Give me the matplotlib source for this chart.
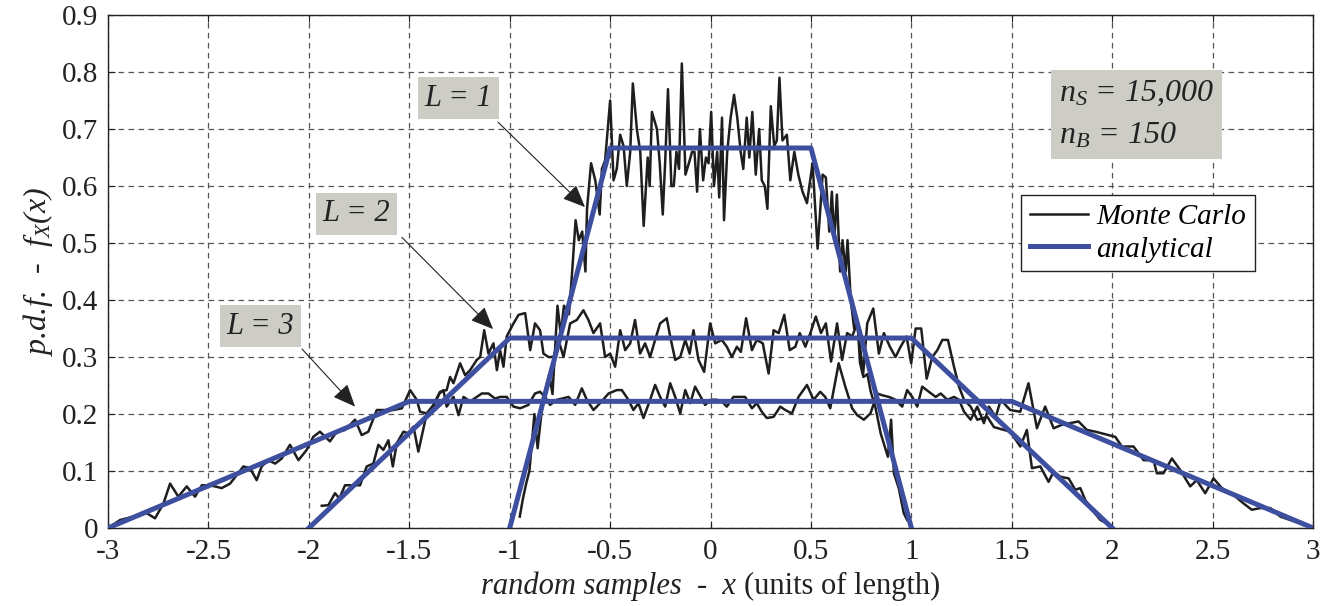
import matplotlib
matplotlib.use("Agg")
import matplotlib.pyplot as plt
from matplotlib.offsetbox import TextArea, HPacker, AnchoredOffsetbox

plt.rcParams['font.family'] = ['Liberation Serif', 'DejaVu Serif']
plt.rcParams['mathtext.fontset'] = 'custom'
plt.rcParams['mathtext.rm'] = 'Liberation Serif:italic'
plt.rcParams['mathtext.it'] = 'Liberation Serif:italic'
plt.rcParams['mathtext.sf'] = 'Liberation Serif'
plt.rcParams['axes.unicode_minus'] = False

# ---------------- data ----------------
x_ticks = [-3, -2.5, -2, -1.5, -1, -0.5, 0, 0.5, 1, 1.5, 2, 2.5, 3]
x_tick_labels = ['-3', '-2.5', '-2', '-1.5', '-1', '-0.5', '0', '0.5', '1', '1.5', '2', '2.5', '3']
y_ticks = [0, 0.1, 0.2, 0.3, 0.4, 0.5, 0.6, 0.7, 0.8, 0.9]
y_tick_labels = ['0', '0.1', '0.2', '0.3', '0.4', '0.5', '0.6', '0.7', '0.8', '0.9']

# analytical p.d.f. (trapezoids)
an1_x = [-1, -0.5, 0.5, 1]
an1_y = [0, 0.6667, 0.6667, 0]
an2_x = [-2, -1, 1, 2]
an2_y = [0, 0.3333, 0.3333, 0]
an3_x = [-3, -1.5, 1.5, 3]
an3_y = [0, 0.2222, 0.2222, 0]

# Monte Carlo histograms
mc1_x = [-0.95, -0.935, -0.918, -0.902, -0.877, -0.861, -0.844, -0.828, -0.803, -0.787,
         -0.762, -0.746, -0.730, -0.705, -0.689, -0.672, -0.656, -0.639, -0.623, -0.615,
         -0.595, -0.574, -0.552, -0.541, -0.525,
         -0.500, -0.483, -0.467, -0.450, -0.433, -0.417, -0.400, -0.387, -0.367, -0.350,
         -0.333, -0.313, -0.303, -0.292, -0.267, -0.253, -0.238, -0.225, -0.212, -0.195,
         -0.183, -0.170, -0.157, -0.143, -0.125, -0.108, -0.092, -0.080, -0.067, -0.053,
         -0.037, -0.023, -0.010, 0.003, 0.017, 0.033, 0.043, 0.057, 0.067, 0.083,
         0.100, 0.117, 0.133, 0.150, 0.163, 0.180, 0.193, 0.208, 0.225, 0.242,
         0.255, 0.270, 0.283, 0.300, 0.317, 0.330, 0.343, 0.358, 0.380, 0.397,
         0.417, 0.437, 0.458, 0.480, 0.500,
         0.508, 0.533, 0.558, 0.574, 0.591, 0.604, 0.616, 0.629, 0.645, 0.657,
         0.673, 0.682, 0.698, 0.715, 0.731, 0.744, 0.761, 0.781, 0.797, 0.822,
         0.847, 0.883, 0.899, 0.913, 0.937, 0.962, 0.979]
mc1_y = [0.02, 0.05, 0.078, 0.10, 0.20, 0.14, 0.195, 0.235, 0.27, 0.235,
         0.39, 0.34, 0.39, 0.375, 0.45, 0.54, 0.505, 0.52, 0.45, 0.56,
         0.64, 0.61, 0.55, 0.63, 0.645,
         0.75, 0.61, 0.63, 0.69, 0.67, 0.60, 0.66, 0.78, 0.70, 0.66,
         0.53, 0.65, 0.60, 0.73, 0.70, 0.64, 0.55, 0.65, 0.77, 0.60,
         0.60, 0.66, 0.63, 0.815, 0.62, 0.64, 0.66, 0.66, 0.59, 0.70,
         0.61, 0.65, 0.64, 0.73, 0.60, 0.66, 0.58, 0.72, 0.54, 0.66,
         0.72, 0.76, 0.72, 0.66, 0.63, 0.72, 0.65, 0.73, 0.62, 0.70,
         0.61, 0.60, 0.56, 0.74, 0.67, 0.68, 0.79, 0.68, 0.69, 0.61,
         0.66, 0.62, 0.59, 0.57, 0.62,
         0.64, 0.49, 0.62, 0.615, 0.52, 0.59, 0.505, 0.585, 0.45, 0.505,
         0.45, 0.505, 0.40, 0.35, 0.365, 0.29, 0.265, 0.27, 0.24, 0.21,
         0.166, 0.125, 0.19, 0.096, 0.07, 0.026, 0.014]

mc2_x = [-1.936, -1.903, -1.870, -1.848, -1.820, -1.778, -1.745, -1.712, -1.679, -1.654,
         -1.629, -1.604, -1.582, -1.562, -1.529, -1.504, -1.479, -1.455,
         -1.413, -1.380, -1.347, -1.314, -1.297, -1.280, -1.247, -1.222, -1.197, -1.164,
         -1.147, -1.127, -1.106, -1.081, -1.064, -1.048, -1.031, -1.015, -0.981, -0.956,
         -0.923, -0.898, -0.874, -0.849, -0.832, -0.807, -0.782, -0.757, -0.732, -0.699,
         -0.666, -0.633, -0.608, -0.583, -0.550, -0.525, -0.500, -0.475, -0.450, -0.425,
         -0.400, -0.376, -0.351, -0.326, -0.301, -0.276, -0.251, -0.218, -0.201, -0.176,
         -0.151, -0.126, -0.104, -0.085, -0.060,
         -0.032, -0.002, 0.023, 0.056, 0.081, 0.106, 0.131, 0.151, 0.177, 0.206,
         0.230, 0.260, 0.289, 0.314, 0.339, 0.367, 0.394, 0.422, 0.444, 0.472,
         0.497, 0.524, 0.550, 0.574, 0.600, 0.630, 0.655, 0.680, 0.705, 0.730,
         0.760, 0.780, 0.810, 0.838, 0.863, 0.893, 0.921, 0.946, 0.976, 0.999,
         1.021, 1.049, 1.076, 1.104, 1.129, 1.154, 1.182, 1.212, 1.237, 1.262,
         1.295, 1.328, 1.378, 1.411,
         1.492, 1.542, 1.575, 1.600, 1.642, 1.683, 1.708, 1.741, 1.783, 1.816,
         1.841, 1.866, 1.899, 1.941, 1.975]
mc2_y = [0.039, 0.040, 0.061, 0.052, 0.075, 0.075, 0.075, 0.108, 0.113, 0.146,
         0.137, 0.154, 0.108, 0.149, 0.169, 0.166, 0.178, 0.134,
         0.201, 0.216, 0.239, 0.242, 0.265, 0.254, 0.289, 0.268, 0.277, 0.295,
         0.300, 0.347, 0.306, 0.324, 0.277, 0.312, 0.283, 0.336, 0.359, 0.374,
         0.377, 0.312, 0.359, 0.347, 0.306, 0.300, 0.300, 0.330, 0.300, 0.359,
         0.365, 0.382, 0.365, 0.342, 0.359, 0.300, 0.306, 0.283, 0.347, 0.312,
         0.324, 0.365, 0.306, 0.324, 0.300, 0.330, 0.359, 0.368, 0.336, 0.295,
         0.300, 0.330, 0.306, 0.347, 0.295,
         0.274, 0.359, 0.324, 0.330, 0.318, 0.300, 0.318, 0.309, 0.368, 0.312,
         0.330, 0.324, 0.271, 0.347, 0.342, 0.374, 0.312, 0.318, 0.342, 0.318,
         0.342, 0.371, 0.342, 0.359, 0.292, 0.359, 0.295, 0.342, 0.336, 0.359,
         0.271, 0.359, 0.385, 0.306, 0.342, 0.318, 0.300, 0.318, 0.336, 0.289,
         0.350, 0.350, 0.262, 0.300, 0.312, 0.330, 0.330, 0.283, 0.248, 0.225,
         0.213, 0.190, 0.195, 0.177,
         0.169, 0.143, 0.172, 0.105, 0.108, 0.081, 0.099, 0.090, 0.087, 0.067,
         0.070, 0.049, 0.032, 0.014, 0.008]

mc3_x = [-3.0, -2.940, -2.874, -2.807, -2.766, -2.724, -2.691, -2.650, -2.608, -2.567,
         -2.533, -2.500, -2.467, -2.434, -2.392, -2.359, -2.326, -2.293, -2.260, -2.235,
         -2.202, -2.168, -2.135, -2.094, -2.052, -2.011, -1.978, -1.945, -1.895, -1.861,
         -1.820, -1.770, -1.737, -1.704, -1.662, -1.620, -1.579, -1.537, -1.496, -1.463,
         -1.446, -1.413, -1.380, -1.350, -1.330, -1.314, -1.280, -1.255, -1.230, -1.197,
         -1.164, -1.139, -1.106, -1.073, -1.048, -1.015, -0.981, -0.948, -0.907, -0.874,
         -0.849, -0.824, -0.799, -0.765, -0.740, -0.707, -0.674, -0.641, -0.616, -0.583,
         -0.550, -0.508, -0.467, -0.442, -0.409, -0.384, -0.359, -0.334, -0.301, -0.276,
         -0.251, -0.226, -0.201, -0.176, -0.151, -0.126, -0.101, -0.077,
         -0.027, 0.002, 0.031, 0.056, 0.081, 0.114, 0.147, 0.172, 0.206, 0.230,
         0.255, 0.280, 0.314, 0.347, 0.372, 0.405, 0.438, 0.480, 0.513, 0.546,
         0.571, 0.596, 0.638, 0.671, 0.705, 0.730, 0.763, 0.796, 0.830, 0.854,
         0.888, 0.921, 0.954, 0.979, 1.004, 1.029, 1.054, 1.087, 1.121, 1.146,
         1.179, 1.212, 1.237, 1.262, 1.295, 1.328, 1.361, 1.386, 1.420, 1.445,
         1.492, 1.542, 1.583, 1.625, 1.666, 1.708, 1.749, 1.791, 1.832, 1.874,
         1.916, 1.949, 2.015, 2.048, 2.106, 2.156, 2.206, 2.222, 2.255, 2.297,
         2.338, 2.388, 2.421, 2.463, 2.504, 2.546, 2.604, 2.654, 2.695, 2.737,
         2.787, 2.837, 2.886, 2.936, 2.994]
mc3_y = [0.0, 0.014, 0.020, 0.026, 0.017, 0.043, 0.078, 0.055, 0.073, 0.055,
         0.075, 0.075, 0.073, 0.070, 0.078, 0.093, 0.108, 0.105, 0.084, 0.108,
         0.119, 0.113, 0.122, 0.146, 0.119, 0.137, 0.160, 0.169, 0.152, 0.169,
         0.172, 0.190, 0.163, 0.169, 0.207, 0.207, 0.207, 0.210, 0.242, 0.225,
         0.204, 0.201, 0.213, 0.236, 0.242, 0.213, 0.230, 0.198, 0.230, 0.222,
         0.230, 0.236, 0.236, 0.227, 0.230, 0.230, 0.213, 0.210, 0.216, 0.236,
         0.239, 0.230, 0.216, 0.225, 0.227, 0.230, 0.216, 0.245, 0.225, 0.207,
         0.219, 0.236, 0.242, 0.242, 0.225, 0.207, 0.219, 0.193, 0.225, 0.251,
         0.230, 0.213, 0.254, 0.230, 0.201, 0.242, 0.219, 0.248,
         0.216, 0.225, 0.225, 0.222, 0.213, 0.230, 0.230, 0.230, 0.210, 0.219,
         0.204, 0.193, 0.195, 0.213, 0.207, 0.201, 0.230, 0.251, 0.225, 0.239,
         0.230, 0.210, 0.289, 0.248, 0.210, 0.198, 0.190, 0.201, 0.236, 0.233,
         0.230, 0.225, 0.213, 0.242, 0.230, 0.213, 0.248, 0.239, 0.230, 0.236,
         0.225, 0.230, 0.225, 0.204, 0.190, 0.213, 0.184, 0.213, 0.195, 0.225,
         0.207, 0.204, 0.254, 0.175, 0.213, 0.175, 0.181, 0.184, 0.187, 0.172,
         0.169, 0.166, 0.160, 0.143, 0.143, 0.119, 0.119, 0.096, 0.096, 0.122,
         0.102, 0.073, 0.084, 0.061, 0.087, 0.070, 0.058, 0.043, 0.032, 0.035,
         0.035, 0.020, 0.014, 0.008, 0.0]

# annotation labels: text, box centre, arrow start, arrow tip
ann_labels = ['L = 1', 'L = 2', 'L = 3']
ann_text_xy = [(-1.257, 0.754), (-1.763, 0.551), (-2.241, 0.354)]
ann_start_xy = [(-1.058, 0.712), (-1.537, 0.510), (-2.034, 0.314)]
ann_tip_xy = [(-0.625, 0.563), (-1.083, 0.349), (-1.770, 0.213)]

info_text = '$n_S$ = 15,000\n$n_B$ = 150'
legend_labels = ['Monte Carlo', 'analytical']

# ---------------- styling ----------------
BLUE = '#3f4fa0'
BLACK = '#1e1e1e'
BOXGRAY = '#cdcdc6'
FS = 21

fig = plt.figure(figsize=(13.32, 6.06), dpi=100)
ax = fig.add_axes([0.0811, 0.1287, 0.9047, 0.8465])

mc_lines = []
for xs, ys in [(mc1_x, mc1_y), (mc2_x, mc2_y), (mc3_x, mc3_y)]:
    ln, = ax.plot(xs, ys, color=BLACK, lw=1.8, zorder=3)
    mc_lines.append(ln)
an_lines = []
for xs, ys in [(an1_x, an1_y), (an2_x, an2_y), (an3_x, an3_y)]:
    ln, = ax.plot(xs, ys, color=BLUE, lw=3.6, zorder=4, solid_joinstyle='round')
    an_lines.append(ln)

ax.set_xlim(-3, 3)
ax.set_ylim(0, 0.9)
ax.set_xticks(x_ticks)
ax.set_xticklabels(x_tick_labels)
ax.set_yticks(y_ticks)
ax.set_yticklabels(y_tick_labels)
ax.tick_params(direction='in', length=5, width=0.8, labelsize=FS, top=True, right=True,
               colors='#222222')
ax.tick_params(axis='x', pad=8)
ax.tick_params(axis='y', pad=7)
ax.grid(True, color='#555555', linestyle=(0, (4.5, 3.5)), lw=0.9)
ax.set_axisbelow(True)
for sp in ax.spines.values():
    sp.set_linewidth(1.0)
    sp.set_color('#222222')

# y label
ax.set_ylabel('p.d.f.  -  $f_X(x)$', style='italic', fontsize=FS + 2, labelpad=5,
              color='#222222')

# x label with italic + upright parts
t1 = TextArea('random samples  -  x ', textprops=dict(style='italic', size=FS + 1, color='#222222'))
t2 = TextArea('(units of length)', textprops=dict(size=FS + 1, color='#222222'))
pack = HPacker(children=[t1, t2], align='baseline', pad=0, sep=0)
anch = AnchoredOffsetbox(loc='upper center', child=pack, pad=0, frameon=False, borderpad=0,
                         bbox_to_anchor=(0.5, -0.085), bbox_transform=ax.transAxes)
ax.add_artist(anch)

# annotations
for lab, txy, sxy, pxy in zip(ann_labels, ann_text_xy, ann_start_xy, ann_tip_xy):
    ax.text(txy[0], txy[1], lab, style='italic', fontsize=FS + 1, ha='center', va='center',
            color='#222222', zorder=6,
            bbox=dict(boxstyle='square,pad=0.22', fc=BOXGRAY, ec='none'))
    ax.annotate('', xy=pxy, xytext=sxy, zorder=6,
                arrowprops=dict(arrowstyle='-|>,head_length=0.7,head_width=0.3',
                                color='#222222', lw=0.8, mutation_scale=20,
                                shrinkA=0, shrinkB=0))

# info box
ax.text(0.789, 0.876, info_text, transform=ax.transAxes, ha='left', va='top',
        fontsize=FS + 2, style='italic', color='#222222', linespacing=1.6, zorder=6,
        bbox=dict(boxstyle='square,pad=0.25', fc=BOXGRAY, ec='none'))

# legend
leg = ax.legend([mc_lines[0], an_lines[0]], legend_labels, loc='upper right',
                bbox_to_anchor=(0.952, 0.649), prop=dict(style='italic', size=FS),
                frameon=True, fancybox=False, edgecolor='#222222', framealpha=1,
                handlelength=2.0, handletextpad=0.3, borderpad=0.3, labelspacing=0.2,
                borderaxespad=0)
leg.get_frame().set_linewidth(1.0)

fig.savefig('out.png', dpi=100)
